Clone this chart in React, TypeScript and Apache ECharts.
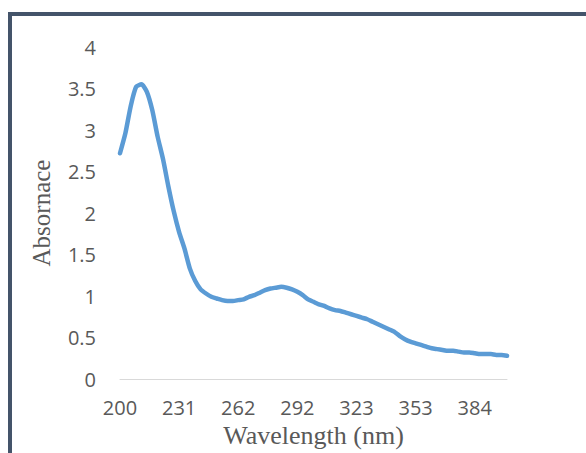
import React, { useEffect, useRef } from "react";
import * as echarts from "echarts";

// Wavelength categories (nm); labelled every 11th point
const wavelengths: number[] = [
  200, 202.8, 205.6, 208.5, 211.3, 214.1, 216.9, 219.7, 222.5, 225.4, 228.2,
  231, 233.8, 236.6, 239.5, 242.3, 245.1, 247.9, 250.7, 253.5, 256.4, 259.2,
  262, 264.7, 267.5, 270.2, 272.9, 275.6, 278.4, 281.1, 283.8, 286.5, 289.3,
  292, 294.8, 297.6, 300.5, 303.3, 306.1, 308.9, 311.7, 314.5, 317.4, 320.2,
  323, 325.7, 328.5, 331.2, 333.9, 336.6, 339.4, 342.1, 344.8, 347.5, 350.3,
  353, 355.8, 358.6, 361.5, 364.3, 367.1, 369.9, 372.7, 375.5, 378.4, 381.2,
  384, 386.8, 389.6, 392.5, 395.3, 398.1, 400.9,
];

const absorbance: number[] = [
  2.72, 2.96, 3.29, 3.52, 3.55, 3.46, 3.24, 2.92, 2.65, 2.32, 2.02,
  1.77, 1.57, 1.33, 1.18, 1.08, 1.03, 0.99, 0.97, 0.95, 0.94, 0.94,
  0.95, 0.96, 0.99, 1.01, 1.04, 1.07, 1.09, 1.1, 1.11, 1.1, 1.08,
  1.05, 1.01, 0.96, 0.93, 0.9, 0.88, 0.85, 0.83, 0.82, 0.8, 0.78,
  0.76, 0.74, 0.72, 0.69, 0.66, 0.63, 0.6, 0.57, 0.52, 0.48, 0.45,
  0.43, 0.41, 0.39, 0.37, 0.36, 0.35, 0.34, 0.34, 0.33, 0.32, 0.32,
  0.31, 0.3, 0.3, 0.3, 0.29, 0.29, 0.28,
];

const yMin = 0;
const yMax = 4;
const yStep = 0.5;

export default function App() {
  const ref = useRef<HTMLDivElement>(null);
  useEffect(() => {
    if (!ref.current) return;
    const chart = echarts.init(ref.current, undefined, { renderer: "svg" });
    chart.setOption({
      animation: false,
      backgroundColor: "#ffffff",
      graphic: [
        { type: "rect", shape: { x: 8, y: 12, width: 4, height: 441 }, style: { fill: "#44546a" } },
        { type: "rect", shape: { x: 8, y: 12, width: 578, height: 4 }, style: { fill: "#44546a" } },
      ],
      grid: { left: 120, right: 79, top: 47, bottom: 74 },
      xAxis: {
        type: "category",
        data: wavelengths.map(String),
        boundaryGap: false,
        name: "Wavelength (nm)",
        nameLocation: "middle",
        nameGap: 43,
        nameTextStyle: { fontFamily: "Liberation Serif", fontSize: 26, color: "#595959" },
        axisLine: { show: true, lineStyle: { color: "#d9d9d9", width: 1 } },
        axisTick: { show: false },
        axisLabel: {
          interval: 10,
          margin: 18,
          fontFamily: "Open Sans",
          fontSize: 20,
          color: "#595959",
          formatter: (v: string) => String(Math.round(Number(v))),
        },
        splitLine: { show: false },
      },
      yAxis: {
        type: "value",
        min: yMin,
        max: yMax,
        interval: yStep,
        name: "Absornace",
        nameLocation: "middle",
        nameGap: 66,
        nameTextStyle: { fontFamily: "Liberation Serif", fontSize: 25, color: "#595959" },
        axisLine: { show: false },
        axisTick: { show: false },
        axisLabel: { margin: 24, fontFamily: "Open Sans", fontSize: 20, color: "#595959" },
        splitLine: { show: false },
      },
      series: [
        {
          type: "line",
          data: absorbance,
          showSymbol: false,
          smooth: 0.2,
          lineStyle: { color: "#5b9bd5", width: 4.5, cap: "round", join: "round" },
          itemStyle: { color: "#5b9bd5" },
        },
      ],
    });
    return () => chart.dispose();
  }, []);
  return (
    <div
      ref={ref}
      style={{ position: "fixed", left: 0, top: 0, width: 586, height: 453 }}
    />
  );
}
